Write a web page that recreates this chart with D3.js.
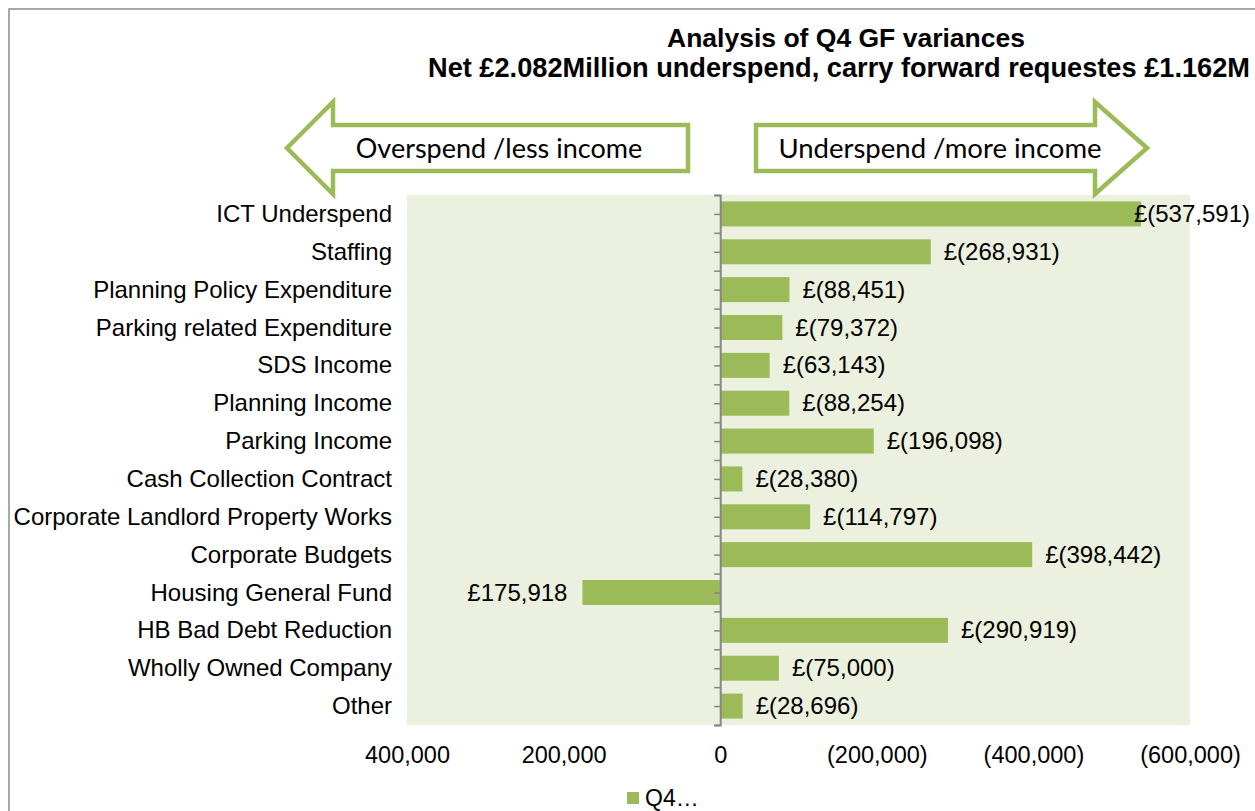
<!DOCTYPE html>
<html>
<head>
<meta charset="utf-8">
<script src="https://cdn.jsdelivr.net/npm/d3@7"></script>
<style>
  body { margin: 0; background: #fff; }
  svg { display: block; font-family: "Liberation Sans", Arial, sans-serif; }
</style>
</head>
<body>
<div id="chart"></div>
<script>
const categories = [
  'ICT Underspend', 'Staffing', 'Planning Policy Expenditure', 'Parking related Expenditure',
  'SDS Income', 'Planning Income', 'Parking Income', 'Cash Collection Contract',
  'Corporate Landlord Property Works', 'Corporate Budgets', 'Housing General Fund',
  'HB Bad Debt Reduction', 'Wholly Owned Company', 'Other'
];
// positive = overspend, negative = underspend (shown in brackets)
const q4Values = [
  -537591, -268931, -88451, -79372, -63143, -88254, -196098,
  -28380, -114797, -398442, 175918, -290919, -75000, -28696
];
const xTicks = [400000, 200000, 0, -200000, -400000, -600000];
const titleLines = [
  'Analysis of Q4 GF variances',
  'Net £2.082Million underspend, carry forward requestes £1.162M'
];
const seriesName = 'Q4…';

const W = 1255, H = 811;
const plot = { left: 407, right: 1190, top: 195, bottom: 725 };
const green = '#9bbb59';

const svg = d3.select('#chart').append('svg').attr('width', W).attr('height', H);

// chart frame
svg.append('rect').attr('x', 9).attr('y', 9).attr('width', W + 20).attr('height', H + 20)
  .attr('fill', 'none').attr('stroke', '#8c8c8c').attr('stroke-width', 1.5);

const x = d3.scaleLinear().domain([400000, -600000]).range([plot.left, plot.right]);
const y = d3.scaleBand().domain(categories).range([plot.top, plot.bottom]).paddingInner(0.34).paddingOuter(0.17);

svg.append('rect')
  .attr('x', plot.left).attr('y', plot.top)
  .attr('width', plot.right - plot.left).attr('height', plot.bottom - plot.top)
  .attr('fill', '#ebf1de');

// title
svg.append('g').selectAll('text').data(titleLines).join('text')
  .attr('x', (d, i) => i === 0 ? 846 : 839).attr('y', (d, i) => 47 + i * 30)
  .attr('text-anchor', 'middle')
  .attr('font-weight', 'bold').attr('font-size', (d, i) => i === 0 ? 26.5 : 27.2)
  .text(d => d);

// direction arrows
function arrowPath(tipX, headX, endX, cy) {
  return d3.line()([
    [tipX, cy], [headX, cy - 46], [headX, cy - 23], [endX, cy - 23],
    [endX, cy + 23], [headX, cy + 23], [headX, cy + 46]
  ]) + 'Z';
}
const arrows = [
  { path: arrowPath(287, 333, 688, 148), label: 'Overspend /less income', tx: 499, fs: 27 },
  { path: arrowPath(1147, 1095, 756, 148), label: 'Underspend /more income', tx: 940, fs: 27.5 }
];
const ag = svg.append('g').selectAll('g').data(arrows).join('g');
ag.append('path').attr('d', d => d.path)
  .attr('fill', '#fff').attr('stroke', green).attr('stroke-width', 4.5).attr('stroke-linejoin', 'miter');
ag.append('text').attr('x', d => d.tx).attr('y', 158)
  .attr('text-anchor', 'middle').attr('font-family', 'Lato, "Open Sans", sans-serif')
  .attr('font-size', d => d.fs)
  .text(d => d.label);

// bars
svg.append('g').selectAll('rect').data(q4Values).join('rect')
  .attr('x', d => Math.min(x(d), x(0)))
  .attr('y', (d, i) => y(categories[i]))
  .attr('width', d => Math.abs(x(d) - x(0)))
  .attr('height', y.bandwidth())
  .attr('fill', green);

// category labels
svg.append('g').selectAll('text').data(categories).join('text')
  .attr('x', 392).attr('y', d => y(d) + y.bandwidth() / 2 + 8)
  .attr('text-anchor', 'end').attr('font-size', 24)
  .text(d => d);

// value labels
const fmt = d3.format(',');
const money = v => v < 0 ? `£(${fmt(-v)})` : `£${fmt(v)}`;
svg.append('g').selectAll('text').data(q4Values).join('text')
  .attr('y', (d, i) => y(categories[i]) + y.bandwidth() / 2 + 8)
  .attr('font-size', 24)
  .attr('text-anchor', d => d < 0 ? 'start' : 'end')
  .text(money)
  .each(function (d) {
    const t = d3.select(this);
    if (d < 0) {
      const w = this.getComputedTextLength();
      t.attr('x', Math.min(x(d) + 13, W - 5 - w));
    } else {
      t.attr('x', x(d) - 15);
    }
  });

// vertical axis at zero with tick marks
const tickScale = d3.scaleLinear().domain([0, categories.length]).range([plot.top, plot.bottom]);
const yAxis = svg.append('g').attr('transform', `translate(${x(0)},0)`)
  .call(d3.axisLeft(tickScale).tickValues(d3.range(0, categories.length + 0.5, 0.5)).tickSize(6).tickSizeOuter(6).tickFormat(''));
yAxis.selectAll('line').attr('stroke', '#868686').attr('stroke-width', 1.5);
yAxis.select('.domain').attr('stroke', '#868686').attr('stroke-width', 2);

// x axis labels
const xAxis = svg.append('g').attr('transform', `translate(0,${plot.bottom})`)
  .call(d3.axisBottom(x).tickValues(xTicks).tickSize(0).tickPadding(0)
    .tickFormat(v => v < 0 ? `(${fmt(-v)})` : fmt(v)));
xAxis.select('.domain').remove();
xAxis.selectAll('text').attr('font-size', 23.5).attr('fill', '#000')
  .attr('dy', null).attr('y', 38)
  .attr('font-family', '"Liberation Sans", Arial, sans-serif');

// legend
const lg = svg.append('g').attr('transform', 'translate(627,792)');
lg.append('rect').attr('width', 12).attr('height', 12).attr('fill', green);
lg.append('text').attr('x', 18).attr('y', 14).attr('font-size', 23).text(seriesName);
</script>
</body>
</html>
